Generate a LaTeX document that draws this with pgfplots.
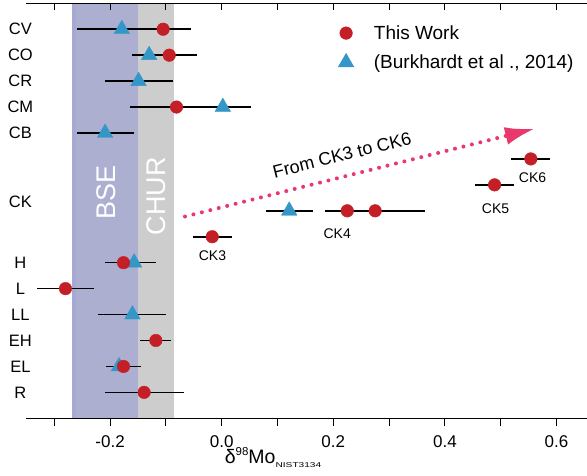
\documentclass[border=0pt]{standalone}
\usepackage{pgfplots}
\pgfplotsset{compat=1.18}
\usepackage{pgfplotstable}
\usepackage{fontspec}
\setmainfont{Liberation Sans}
\usetikzlibrary{arrows.meta}
\definecolor{twred}{HTML}{C41E26}
\definecolor{twblue}{HTML}{3497C8}
\definecolor{bsecol}{HTML}{ADAFD0}
\definecolor{bsestrip}{HTML}{A6A9D4}
\definecolor{churcol}{HTML}{CDCDCD}
\definecolor{arrowcol}{HTML}{E8386C}

\pgfplotstableread{
x ex y
-0.105 0.050 1
-0.094 0.050 2
-0.081 0.083 4
0.554 0.035 6
0.489 0.035 7
0.225 0.040 8
0.275 0.090 8
-0.017 0.035 9
-0.176 0.033 10
-0.280 0.051 11
-0.118 0.028 13
-0.176 0.031 14
-0.139 0.071 15
}\redtab

\pgfplotstableread{
x ex y
-0.179 0.081 1
-0.130 0.030 2
-0.149 0.061 3
0.002 0.050 4
-0.209 0.051 5
0.121 0.042 8
-0.157 0.040 10
-0.160 0.061 12
-0.184 0.023 14
}\bluetab

\begin{document}
\begin{tikzpicture}
\path[use as bounding box] (0,0) rectangle (587pt,476pt);
\begin{axis}[
  at={(26.4pt,57.7pt)}, anchor=south west,
  scale only axis, width=560.8pt, height=415pt,
  xmin=-0.35, xmax=0.655, ymin=0, ymax=16, y dir=reverse,
  axis x line*=bottom, axis y line*=left,
  y axis line style={draw=none},
  x axis line style={line width=1.2pt},
  tick style={black, line width=1.1pt},
  ytick style={draw=none},
  ytick={1,2,3,4,5,7.65,10,11,12,13,14,15},
  yticklabels={CV,CO,CR,CM,CB,CK,H,L,LL,EH,EL,R},
  yticklabel style={anchor=center, xshift=1.5pt, font=\fontsize{16.5}{18}\selectfont},
  xtick={-0.2,0,0.2,0.4,0.6},
  xticklabels={-0.2,0.0,0.2,0.4,0.6},
  minor xtick={-0.3,-0.1,0.1,0.3,0.5},
  tick align=outside,
  major tick length=7.5pt, minor tick length=7.5pt,
  xticklabel style={font=\fontsize{17}{19}\selectfont, yshift=-6pt},
  xlabel={\fontsize{19.5}{22}\selectfont δ\raisebox{7.5pt}{\fontsize{11.5}{12}\selectfont 98}Mo\raisebox{-4pt}{\scalebox{1.45}[1]{\fontsize{7}{8}\selectfont NIST3134}}},
  xlabel style={at={(axis description cs:0.3535,0)}, anchor=north west, inner sep=0pt, yshift=-29pt},
  clip=false,
  reverse legend,
  legend style={at={(axis cs:0.2086,0.77)}, anchor=north west, draw=none, fill=none,
    font=\fontsize{19}{21}\selectfont, row sep=10pt, inner sep=0pt,
    /tikz/every odd column/.append style={column sep=18pt}},
  legend cell align=left,
]
\fill[bsecol] (axis cs:-0.268,0) rectangle (axis cs:-0.150,16);
\fill[bsestrip] (axis cs:-0.268,0) rectangle (axis cs:-0.262,16);
\fill[churcol] (axis cs:-0.150,0) rectangle (axis cs:-0.0855,16);

\node[white, rotate=90, font=\fontsize{27}{30}\selectfont] at (axis cs:-0.2073,7.31) {BSE};
\node[white, rotate=90, font=\fontsize{27}{30}\selectfont] at (axis cs:-0.1168,7.43) {CHUR};

\addplot[only marks, mark=none, forget plot,
  error bars/.cd, x dir=both, x explicit, error mark=none,
  error bar style={draw=black, line width=1.6pt}]
  table[x=x, y=y, x error=ex] {\bluetab};
\addplot[only marks, mark=none, forget plot,
  error bars/.cd, x dir=both, x explicit, error mark=none,
  error bar style={draw=black, line width=1.6pt}]
  table[x=x, y=y, x error=ex] {\redtab};

\addplot[only marks, mark=triangle*, mark size=9pt, mark options={fill=twblue, draw=twblue}]
  table[x=x, y=y] {\bluetab};
\addlegendentry{(Burkhardt et al ., 2014)}
\addplot[only marks, mark=*, mark size=6.3pt, mark options={fill=twred, draw=twred}]
  table[x=x, y=y] {\redtab};
\addlegendentry{This Work}

\draw[arrowcol, line width=4pt, line cap=round, dash pattern=on 0pt off 8.7pt,
  -{Latex[length=30pt,width=18pt]}] (axis cs:-0.0658,8.22) -- (axis cs:0.5615,4.83);
\node[rotate=14, font=\fontsize{18}{20}\selectfont] at (axis cs:0.2156,5.85) {From CK3 to CK6};

\node[font=\fontsize{14}{16}\selectfont] at (axis cs:-0.0165,9.72) {CK3};
\node[font=\fontsize{14}{16}\selectfont] at (axis cs:0.207,8.89) {CK4};
\node[font=\fontsize{14}{16}\selectfont] at (axis cs:0.4907,7.92) {CK5};
\node[font=\fontsize{14}{16}\selectfont] at (axis cs:0.557,6.72) {CK6};
\end{axis}
\begin{axis}[
  at={(26.4pt,57.7pt)}, anchor=south west,
  scale only axis, width=560.8pt, height=415pt,
  xmin=-0.35, xmax=0.655, ymin=0, ymax=16,
  axis x line*=top, axis y line=none,
  x axis line style={line width=1.2pt},
  xtick={-0.2,0,0.2,0.4,0.6},
  minor xtick={-0.3,-0.1,0.1,0.3,0.5},
  xticklabels={},
  tick align=inside,
  tick style={black, line width=1.1pt},
  major tick length=7pt, minor tick length=7pt,
]
\end{axis}
\end{tikzpicture}
\end{document}
